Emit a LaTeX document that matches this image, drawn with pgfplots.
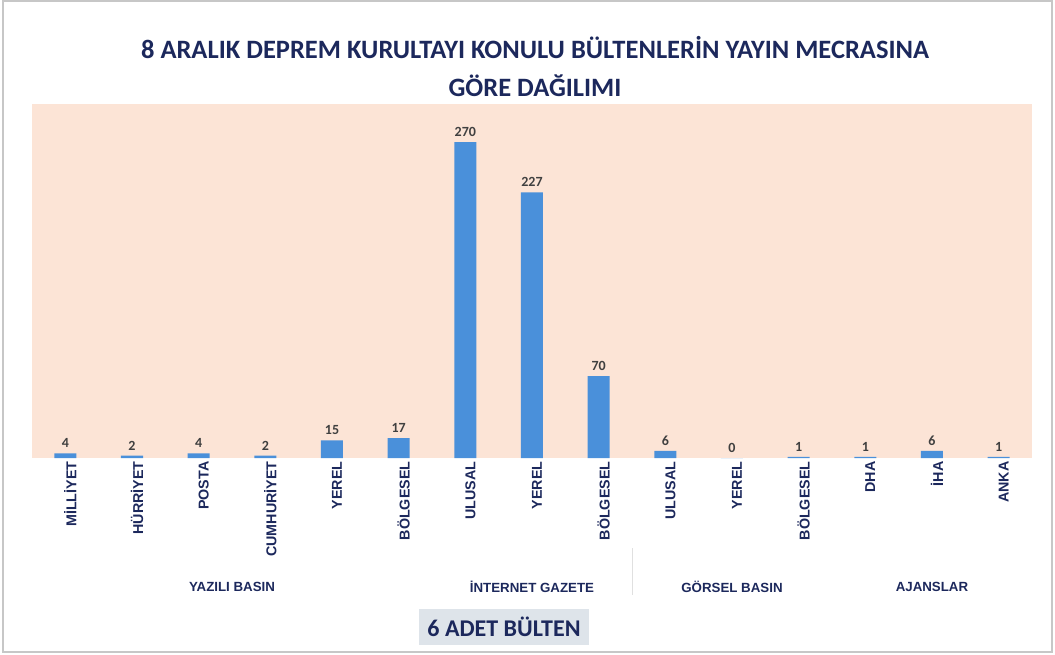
\documentclass[border=0pt]{standalone}
\usepackage{fontspec}
\setmainfont{Carlito}
\newfontfamily\arial{Liberation Sans}
\usepackage{pgfplots}
\pgfplotsset{compat=1.18}
\definecolor{peach}{RGB}{252,228,214}
\definecolor{barblue}{RGB}{74,144,218}
\definecolor{navy}{RGB}{28,40,92}
\definecolor{lblgray}{RGB}{64,64,64}
\definecolor{boxgray}{RGB}{222,228,234}
\begin{document}
\begin{tikzpicture}[x=1pt,y=1pt]
\path[use as bounding box] (0,0) rectangle (1055,654);
\draw[black!22, line width=1.5pt] (3,2) rectangle (1052,653);
\node[font=\bfseries\fontsize{26.5}{38}\selectfont, text=navy, align=center] at (535,587) {8 ARALIK DEPREM KURULTAYI KONULU BÜLTENLERİN YAYIN MECRASINA\\GÖRE DAĞILIMI};
\begin{axis}[
  at={(32pt,196pt)}, anchor=south west,
  width=1000pt, height=354pt, scale only axis,
  xmin=-0.5, xmax=14.5, ymin=0, ymax=302.5,
  axis background/.style={fill=peach},
  axis line style={draw=none},
  ytick=\empty,
  xtick={0,...,14},
  xticklabels={MİLLİYET,HÜRRİYET,POSTA,CUMHURİYET,YEREL,BÖLGESEL,ULUSAL,YEREL,BÖLGESEL,ULUSAL,YEREL,BÖLGESEL,DHA,İHA,ANKA},
  major tick length=0pt,
  xticklabel style={rotate=90, anchor=east, font=\arial\bfseries\fontsize{14.3}{14}\selectfont, text=navy, yshift=-5pt},
  clip=false,
  ybar, bar width=22pt,
  /pgf/number format/assume math mode=true,
  nodes near coords,
  every node near coord/.append style={font=\bfseries\fontsize{14}{14}\selectfont, text=lblgray, yshift=2pt},
]
\addplot[fill=barblue, draw=none] coordinates {
(0,4) (1,2) (2,4) (3,2) (4,15) (5,17) (6,270) (7,227) (8,70) (9,6) (10,0) (11,1) (12,1) (13,6) (14,1)};
\draw[black!12, line width=0.8pt] ([yshift=-90pt]axis cs:8.5,0) -- ([yshift=-137pt]axis cs:8.5,0);
\node[font=\arial\bfseries\fontsize{13.3}{13}\selectfont, text=navy] at ([yshift=-129pt]axis cs:2.5,0) {YAZILI BASIN};
\node[font=\arial\bfseries\fontsize{13.3}{13}\selectfont, text=navy] at ([yshift=-129pt]axis cs:7,0) {İNTERNET GAZETE};
\node[font=\arial\bfseries\fontsize{13.3}{13}\selectfont, text=navy] at ([yshift=-129pt]axis cs:10,0) {GÖRSEL BASIN};
\node[font=\arial\bfseries\fontsize{13.3}{13}\selectfont, text=navy] at ([yshift=-129pt]axis cs:13,0) {AJANSLAR};
\end{axis}
\node[fill=boxgray, font=\bfseries\fontsize{24}{24}\selectfont, text=navy, minimum width=170pt, minimum height=36pt, inner sep=0pt] at (504,27) {6 ADET BÜLTEN};
\end{tikzpicture}
\end{document}
